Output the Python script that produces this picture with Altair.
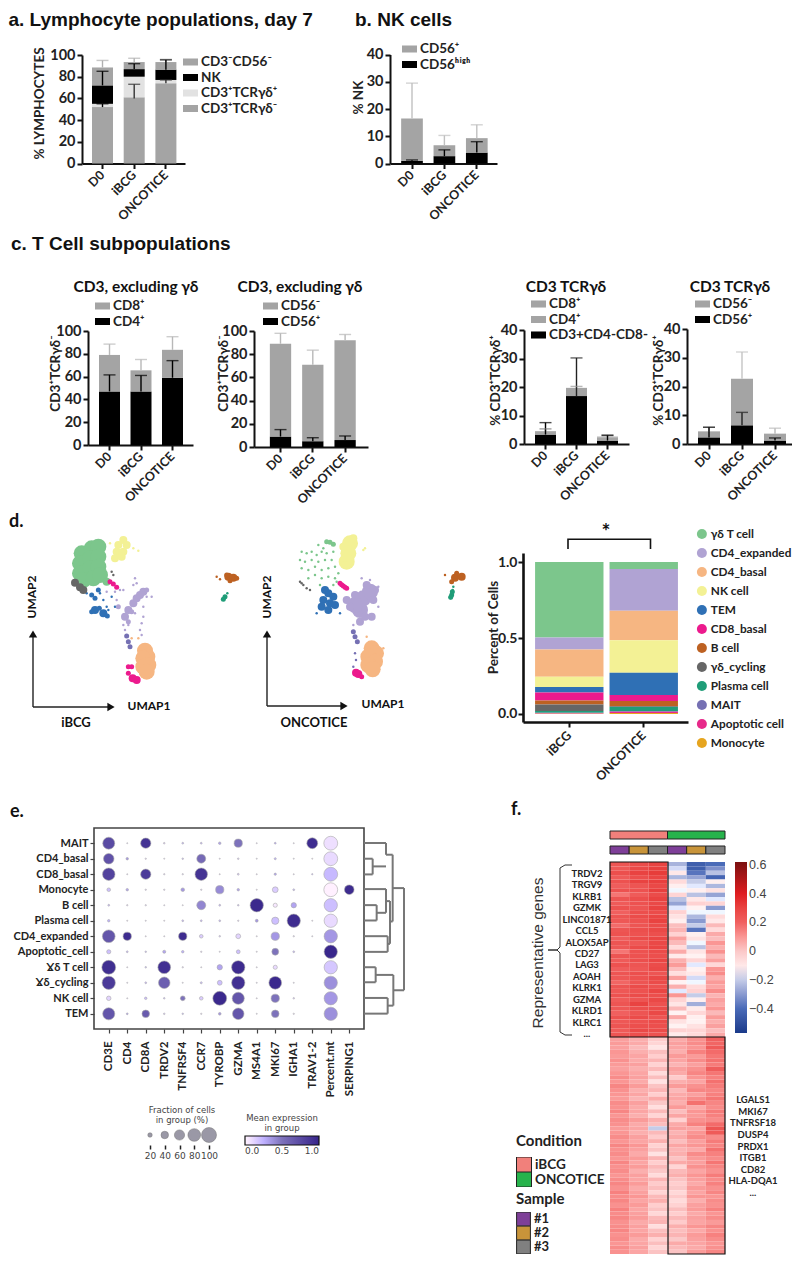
import altair as alt
import pandas as pd

W, H = 784, 1247
def P(v): return v - 8
FONT = "Lato"
one = pd.DataFrame({"k": [0]})
GREY, LIGHT, BLACK = "#a4a4a4", "#e2e2e2", "#000000"
CATS = ["D0", "iBCG", "ONCOTICE"]

# ---------- panel a
a_names = ["CD3⁻CD56⁻", "NK", "CD3⁺TCRγδ⁺", "CD3⁺TCRγδ⁻"]
a_colors = [GREY, BLACK, LIGHT, GREY]
a_bounds = {"CD3⁺TCRγδ⁻": [[0, 52], [0, 61], [0, 74]],
            "CD3⁺TCRγδ⁺": [[52, 55], [61, 80], [74, 77]],
            "NK": [[55, 72], [80, 87], [77, 86.5]],
            "CD3⁻CD56⁻": [[72, 88.5], [87, 93.5], [86.5, 93.5]]}
a_err = [("D0", 88.5, 95, "#b0b0b0"), ("D0", 72, 85, BLACK), ("D0", 52, 55, BLACK),
         ("iBCG", 93.5, 97, "#b0b0b0"), ("iBCG", 87, 92, BLACK), ("iBCG", 60, 73, "#333333"),
         ("ONCOTICE", 93.5, 96, "#b0b0b0"), ("ONCOTICE", 86.5, 95.5, BLACK), ("ONCOTICE", 74, 77, "#333333")]
# ---------- panel b
b_names = ["CD56⁺", "CD56ʰⁱᵍʰ"]
b_colors = [GREY, BLACK]
b_bounds = {"CD56ʰⁱᵍʰ": [[0, 1], [0, 2.7], [0, 4]], "CD56⁺": [[1, 16.5], [2.7, 6.7], [4, 9.3]]}
b_err = [("D0", 16.5, 29.5, "#c0c0c0"), ("D0", 1, 1.3, BLACK), ("iBCG", 6.7, 10.3, "#c0c0c0"),
         ("iBCG", 2.7, 5, BLACK), ("ONCOTICE", 9.3, 14.2, "#c0c0c0"), ("ONCOTICE", 4, 8, BLACK)]
# ---------- panel c
c1_names = ["CD8⁺", "CD4⁺"]
c1_bounds = {"CD4⁺": [[0, 47], [0, 47], [0, 59]], "CD8⁺": [[47, 79], [47, 65.5], [59, 83.5]]}
c1_err = [("D0", 79, 88.5, "#b8b8b8"), ("iBCG", 65.5, 75, "#b8b8b8"), ("ONCOTICE", 83.5, 95, "#b8b8b8"),
          ("D0", 47, 61.5, BLACK), ("iBCG", 47, 61, BLACK), ("ONCOTICE", 59, 74, BLACK)]
c2_names = ["CD56⁻", "CD56⁺"]
c2_bounds = {"CD56⁺": [[0, 9], [0, 5], [0, 6]], "CD56⁻": [[9, 89], [5, 71], [6, 92]]}
c2_err = [("D0", 89, 98, "#b8b8b8"), ("iBCG", 71, 83.5, "#b8b8b8"), ("ONCOTICE", 92, 97, "#b8b8b8"),
          ("D0", 9, 15, BLACK), ("iBCG", 5, 8, BLACK), ("ONCOTICE", 6, 9.5, BLACK)]
c3_names = ["CD8⁺", "CD4⁺", "CD3+CD4-CD8-"]
c3_bounds = {"CD3+CD4-CD8-": [[0, 3.3], [0, 16.8], [0, 1.2]], "CD4⁺": [[3.3, 4.2], [16.8, 19.3], [1.2, 2.2]],
             "CD8⁺": [[4.2, 4.5], [19.3, 19.7], [2.2, 2.6]]}
c3_err = [("D0", 4.5, 5.3, "#777777"), ("iBCG", 19.7, 20.2, "#999999"), ("ONCOTICE", 2.6, 3.2, "#777777"),
          ("D0", 3.3, 7.5, BLACK), ("iBCG", 16.8, 30.2, "#222222"), ("ONCOTICE", 1.2, 3, BLACK)]
c4_names = ["CD56⁻", "CD56⁺"]
c4_bounds = {"CD56⁺": [[0, 2.3], [0, 6.5], [0, 1.2]], "CD56⁻": [[2.3, 4.4], [6.5, 22.7], [1.2, 3.6]]}
c4_err = [("D0", 4.4, 6, "#b8b8b8"), ("iBCG", 22.7, 32, "#c4c4c4"), ("ONCOTICE", 3.6, 5.5, "#b8b8b8"),
          ("D0", 2.3, 5.8, BLACK), ("iBCG", 6.5, 11, "#222222"), ("ONCOTICE", 1.2, 2.1, BLACK)]
# ---------- panel d
d_cell_types = ["γδ T cell", "CD4_expanded", "CD4_basal", "NK cell", "TEM", "CD8_basal", "B cell",
                "γδ_cycling", "Plasma cell", "MAIT", "Apoptotic cell", "Monocyte"]
d_colors = ["#7cc68c", "#b0a3d3", "#f6b682", "#f3f195", "#2f70b5", "#ec1a8d", "#bd6122",
            "#666666", "#1f9d78", "#7570b3", "#e7298a", "#e6a51f"]
d_top_ibcg = [1.0, .503, .425, .245, .177, .142, .088, .063, .02, .008, .004, .002]
d_top_onco = [1.0, .955, .68, .485, .272, .125, .085, .05, .045, .02, .015, .007]
# UMAP points: (x, y, cell type, density tier)
u1 = {
 "big": [(245,130,0),(275,115,0),(295,110,0),(240,160,0),(270,145,0),(295,140,0),(240,190,0),(270,175,0),(295,170,0),
         (250,210,0),(280,205,0),(300,195,0),(435,422,2),(442,440,2),(430,445,2),(445,465,2),(430,470,2),(440,485,2)],
 "mid": [(320,215,0),(370,90,3),(355,105,3),(380,105,3),(350,125,3),(370,125,3),(345,145,3),(365,140,3),
         (225,218,7),(240,232,7),(250,240,7),(430,245,1),(410,265,1),(400,280,1),(385,300,1),(375,320,1),(420,255,1),
         (398,505,5),(410,510,5),(685,200,6),(700,203,6),(285,300,4),(310,310,4)],
 "small": [(380,378,9),(385,395,9),(390,410,9),(385,470,5),(395,470,5),(385,490,5),(680,195,6),(710,205,6),(690,212,6),(675,260,8),
           (670,268,8),(275,255,4),(285,265,4),(295,240,4),(330,215,5),(350,232,5),(340,222,5),(275,305,4),(298,295,4),(322,318,4),
           (395,305,1),(385,335,1),(440,240,1),(355,290,1)],
 "dot": [(400,115,3),(415,122,3),(330,100,3),(325,300,4),(320,290,4),(300,250,4),(310,270,4),(405,205,1),(410,220,1),(440,260,1),
         (455,260,1),(430,290,1),(430,320,1),(425,340,1),(350,270,1),(345,245,1),(370,240,1),(385,345,1),(405,310,1),(420,360,1),
         (425,375,1),(360,240,1),(335,185,7),(340,195,7),(650,200,6),(660,208,6),(682,250,8),(260,250,4),(335,260,4),
         (320,245,1),(395,385,2),(415,385,2),(345,290,4),(400,225,1),(375,360,1),(370,345,1)],
}
u2 = {
 "big": [(1050,100,3),(1045,130,3),(1040,155,3),(1080,300,1),(1090,265,1),(1110,245,1),(1065,285,1),(1115,415,2),(1128,430,2),(1105,440,2),
         (1125,455,2),(1105,465,2),(1118,478,2)],
 "mid": [(1060,85,3),(1030,110,3),(1035,165,3),(985,250,4),(970,270,4),(990,280,4),(1000,260,4),(965,290,4),(985,300,4),(1005,285,4),
         (975,240,4),(1120,270,1),(1115,320,1),(1050,290,1),(1080,335,1),(1065,255,1),(1100,225,1),(1040,270,1),(1075,492,5),(1068,488,5),
         (1365,203,6),(1385,200,6),(1125,240,1),(1095,320,1)],
 "small": [(990,97,0),(980,95,0),(1000,103,0),(1030,228,5),(1040,235,5),(1020,220,5),(1025,224,5),(1035,232,5),(1060,365,9),(1065,380,9),
           (1072,395,9),(1085,500,5),(1355,215,6),(1370,190,6),(1355,255,8),(1357,245,8),(1352,262,8)],
 "dot": [(905,125,0),(920,130,0),(935,125,0),(950,135,0),(965,125,0),(980,130,0),(900,150,0),(915,155,0),(935,150,0),(955,155,0),
         (975,150,0),(995,150,0),(905,175,0),(925,180,0),(945,170,0),(965,180,0),(985,175,0),(1005,170,0),(925,205,0),(945,195,0),
         (965,205,0),(985,200,0),(1005,205,0),(1000,125,0),(955,105,0),(970,115,0),(1015,190,0),(1000,225,0),(960,225,0),(1010,215,0),
         (900,215,7),(910,225,7),(920,235,7),(930,240,7),(905,220,7),(1335,195,6),(1358,240,8),(1360,230,8),(1352,265,8),(1065,430,9),
         (1068,450,9),(1090,120,3),(1095,115,3),(1135,230,1),(1135,290,1),(1085,205,1),(1110,210,1),(1060,345,1),(1100,380,2),(1150,415,2),
         (1060,470,9),(950,310,4),(1020,310,4)],
}
# ---------- panel e
e_rows = ["MAIT", "CD4_basal", "CD8_basal", "Monocyte", "B cell", "Plasma cell", "CD4_expanded", "Apoptotic_cell",
          "Ɣδ T cell", "Ɣδ_cycling", "NK cell", "TEM"]
e_cols = ["CD3E", "CD4", "CD8A", "TRDV2", "TNFRSF4", "CCR7", "TYROBP", "GZMA", "MS4A1", "MKI67", "IGHA1", "TRAV1-2", "Percent.mt", "SERPING1"]
e_frac = [
 [74,3,60,5,6,6,9,45,3,6,3,65,90,0],
 [62,9,4,3,5,50,3,5,3,7,3,3,90,0],
 [78,3,60,4,4,78,3,6,3,8,3,4,90,0],
 [15,9,4,4,15,4,45,9,3,28,6,0,90,55],
 [6,4,4,3,3,50,6,5,85,18,25,0,85,0],
 [9,3,3,3,6,6,6,4,11,38,85,3,85,0],
 [80,45,3,3,45,15,5,22,3,45,4,3,85,0],
 [18,6,5,12,9,4,3,16,3,35,6,0,85,0],
 [90,3,5,80,4,3,25,85,3,18,0,0,85,0],
 [85,3,6,70,3,7,22,85,3,80,3,0,85,0],
 [20,3,9,5,22,15,90,75,3,45,5,0,85,0],
 [75,6,40,5,5,4,10,70,3,40,4,0,85,0]]
e_expr = [
 [.75,.1,.9,.15,.2,.2,.3,.5,.1,.25,.1,.95,.08,0],
 [.7,.35,.1,.1,.2,.55,.1,.15,.1,.25,.1,.05,.1,0],
 [.8,.1,.85,.1,.1,.9,.1,.15,.1,.3,.1,.2,.22,0],
 [.2,.3,.1,.1,.35,.1,.4,.3,.1,.15,.2,0,.02,.95],
 [.2,.1,.1,.1,.1,.42,.2,.2,.97,.05,.3,0,.2,0],
 [.25,.1,.1,.1,.2,.2,.2,.1,.35,.2,.95,.1,.1,0],
 [.68,.95,.1,.1,.95,.15,.15,.12,.1,.35,.1,.1,.35,0],
 [.2,.2,.2,.3,.25,.1,.1,.2,.1,.5,.2,0,.98,0],
 [.93,.1,.2,.92,.1,.1,.3,.95,.1,.1,0,0,.17,0],
 [.85,.1,.2,.62,.1,.2,.2,.92,.1,.97,.1,0,.38,0],
 [.12,.1,.2,.2,.5,.15,.97,.68,.1,.5,.15,0,.35,0],
 [.68,.3,.65,.15,.2,.1,.35,.68,.1,.5,.1,0,.38,0]]
e_legend_frac = [20, 40, 60, 80, 100]
# dendrogram segments: x1, y1, x2, y2 in cluster distance / leaf position units
e_dendro = [(1092,177,1118,177),(1092,224,1118,224),(1118,177,1118,224),(1092,130,1158,130),(1118,200,1158,200),(1158,130,1158,165),
            (1092,316,1130,316),(1092,362,1130,362),(1130,316,1130,362),(1092,268,1158,268),(1130,339,1158,339),(1158,268,1158,339),
            (1092,409,1163,409),(1092,456,1163,456),(1163,409,1163,456),(1158,304,1170,304),(1163,432,1170,432),(1170,304,1170,432),
            (1158,165,1178,165),(1170,365,1178,365),(1178,165,1178,365),(1092,502,1127,502),(1092,547,1127,547),(1127,502,1127,547),
            (1092,594,1163,594),(1092,641,1163,641),(1163,594,1163,641),(1127,525,1180,525),(1163,617,1180,617),(1180,525,1180,617),
            (1178,265,1212,265),(1180,571,1212,571),(1212,265,1212,571)]
# ---------- panel f
f_cols = ["i1", "i2", "i3", "o1", "o2", "o3"]
f_top = [
 [24,27,30,-25,-44,-40],[23,28,31,-18,-44,-32],[26,30,32,-10,-38,-22],[22,26,29,-24,-28,-42],[25,30,31,-6,-20,-12],
 [21,24,28,-12,-16,-24],[25,25,31,-14,-12,-8],[16,22,27,-4,-22,-28],[24,26,30,-22,-10,-16],[22,25,28,-28,-3,-4],
 [25,24,30,-16,-13,-30],[20,26,27,-3,-14,-14],[24,27,29,-8,-24,-6],[23,25,30,-12,-30,-10],[18,24,27,2,-20,3],
 [24,26,28,4,-38,-6],[25,25,26,-3,-12,6],[21,27,29,8,-8,2],[24,23,28,3,-14,10],[23,27,29,-6,-22,5],
 [16,25,27,6,-9,11],[24,25,26,-11,-13,3],[22,26,29,5,-4,8],[25,24,27,9,-16,-5],[21,23,28,2,-13,10],
 [24,26,24,-7,-10,12],[23,25,28,8,-18,5],[19,24,27,-13,-14,9],[24,27,25,5,-6,7],[23,25,29,-16,-3,12],
 [25,27,26,10,-20,4],[22,24,28,-4,-12,8],[24,30,25,-9,-26,6],[23,26,27,3,-11,10],[20,24,28,-13,-5,3],
 [25,27,24,6,-12,9],[23,25,27,-8,-13,5],[24,26,26,-13,-8,8],[22,28,27,-3,-4,2],[24,26,25,-11,-6,6]]
f_bottom = [
 [8,5,-1,6,11,20],[9,6,-4,8,12,19],[8,3,-9,7,10,22],[10,5,2,5,14,18],[9,7,-2,9,9,16],
 [11,6,4,7,12,17],[9,8,-3,4,8,15],[8,5,3,8,11,21],[10,7,-6,6,13,16],[12,8,2,-1,10,14],
 [10,6,-8,5,7,17],[13,9,1,9,11,15],[11,5,4,3,13,13],[10,7,-2,6,8,14],[9,4,6,7,12,16],
 [12,8,0,5,17,13],[11,6,-7,9,6,12],[13,7,3,2,10,15],[10,5,-4,7,9,14],[12,9,5,-3,11,12],
 [11,6,2,6,14,18],[9,7,-20,8,7,24],[10,5,3,4,10,22],[12,8,-1,6,12,12],[10,7,5,2,8,15],
 [13,10,-3,7,10,13],[11,8,1,4,6,17],[12,6,-8,5,12,14],[10,9,4,1,9,12],[13,7,-2,6,8,16],
 [11,9,3,-4,11,13],[12,5,0,3,7,11],[10,8,-6,5,10,15],[12,7,4,1,8,12],[13,9,-1,-2,6,14],
 [11,6,2,0,9,11],[14,8,-4,-5,7,13],[12,10,3,-1,10,10],[13,7,5,-6,5,12],[11,9,-2,-3,8,11],
 [14,7,1,2,9,14],[12,8,-5,-2,6,10],[13,9,3,3,8,12],[11,6,4,-1,7,9],[12,8,-7,5,10,13],
 [13,7,2,2,6,11],[11,9,5,4,9,14],[12,6,-3,0,8,12],[10,7,2,6,7,10],[12,8,-4,3,6,11],[11,7,1,1,9,13]]
f_left_genes = ["TRDV2","TRGV9","KLRB1","GZMK","LINC01871","CCL5","ALOX5AP","CD27","LAG3","AOAH","KLRK1","GZMA","KLRD1","KLRC1","..."]
f_right_genes = ["LGALS1","MKI67","TNFRSF18","DUSP4","PRDX1","ITGB1","CD82","HLA-DQA1","..."]
f_conditions = ["iBCG", "ONCOTICE"]
f_cond_colors = ["#f1807b", "#27b34c"]
f_samples = ["#1", "#2", "#3"]
f_sample_colors = ["#7e3f98", "#c8943a", "#808080"]
f_stops = [-0.57, -0.4, -0.2, -0.13, 0, 0.2, 0.4, 0.62]
f_stop_colors = ["#1a3a8a", "#4a6bb8", "#c5cce8", "#ffffff", "#fbc8c8", "#f0605f", "#df1d20", "#7a1010"]
brace = [(572,865),(565,865),(560,868),(560,947),(557,950),(548,950),(557,950),(560,953),(560,1032),(565,1035),(572,1035)]

AX = dict(grid=False, domainColor="#111", tickColor="#111", domainWidth=2, tickWidth=2, tickSize=5,
          labelFont=FONT, labelFontWeight="bold", labelColor="#222", titleFont=FONT, titleFontWeight="bold", titleColor="#222")

def txt(s, x, y, size=14, weight="bold", font=FONT, color="#111", angle=0, align="center"):
    return alt.Chart(one).mark_text(text=s, font=font, fontSize=size, fontWeight=weight, color=color,
                                    angle=angle, align=align, baseline="middle").encode(
        x=alt.value(P(x)), y=alt.value(P(y)))

def bar_panel(names, colors, bounds, errs, ymax, ticks, y0, y1, ax, ax2, c0, step, bw, ytitle, tx, ty, lx, ly, capw=12, lpad=1.5):
    n = 3
    left = c0 - bw / 2 - ax
    right = ax2 - (c0 + (n - 1) * step + bw / 2)
    pi = 1 - bw / step
    po = (left + right) / (2 * step)
    xs = alt.Scale(domain=CATS, range=[P(ax), P(ax2)], paddingInner=pi, paddingOuter=po, align=left / (left + right))
    ys = alt.Scale(domain=[0, ymax], range=[P(y0), P(y1)], nice=False)
    rows = [{"cat": c, "name": k, "lo": v[i][0], "hi": v[i][1]} for k, v in bounds.items() for i, c in enumerate(CATS)]
    err = pd.DataFrame(errs, columns=["cat", "lo", "hi", "col"])
    xaxis = alt.Axis(orient="bottom", offset=P(y0) - H, title=None, labelAngle=-45, labelAlign="right", labelBaseline="middle",
                     labelFontSize=12.5, labelPadding=4, labelOverlap=False, **AX)
    yaxis = alt.Axis(orient="left", offset=-P(ax), values=ticks, title=ytitle, titleX=tx - ax, titleY=P(ty), titleAngle=270,
                     titleBaseline="middle", titleFontSize=13.5, labelFontSize=14.5, labelPadding=2, **AX)
    x = alt.X("cat:N", scale=xs, axis=xaxis)
    bars = alt.Chart(pd.DataFrame(rows)).mark_bar().encode(
        x=x, y=alt.Y("lo:Q", scale=ys, axis=yaxis), y2="hi:Q",
        color=alt.Color("name:N", scale=alt.Scale(domain=names, range=colors),
                        legend=alt.Legend(orient="none", legendX=P(lx), legendY=P(ly), title=None, symbolType="M-1,-0.47H1V0.47H-1Z",
                                          symbolSize=225, symbolOpacity=1, labelFont=FONT, labelFontWeight="bold", labelFontSize=13.5, labelColor="#222",
                                          rowPadding=lpad, labelOffset=3, symbolStrokeWidth=0, clipHeight=14)))
    rule = alt.Chart(err).mark_rule(strokeWidth=1.4).encode(x=alt.X("cat:N", scale=xs, axis=None),
            y=alt.Y("lo:Q", scale=ys, axis=None), y2="hi:Q", color=alt.Color("col:N", scale=None))
    cap = alt.Chart(err).mark_tick(size=capw, thickness=1.4).encode(x=alt.X("cat:N", scale=xs, axis=None),
            y=alt.Y("hi:Q", scale=ys, axis=None), color=alt.Color("col:N", scale=None))
    return [bars, rule, cap]

layers = []
# titles
layers += [txt("a. Lymphocyte populations, day 7", 8.5, 19.5, 19, font="Liberation Sans", align="left"),
           txt("b. NK cells", 355, 19.5, 19, font="Liberation Sans", align="left"),
           txt("c. T Cell subpopulations", 11, 244, 19, font="Liberation Sans", align="left"),
           txt("d.", 9, 522, 18, align="left"), txt("e.", 10, 812, 18, align="left"), txt("f.", 511, 810, 18, align="left")]

layers += bar_panel(a_names, a_colors, a_bounds, a_err, 100, [0,20,40,60,80,100], 163.5, 55, 82, 185, 102.5, 31.7, 21,
                    "% LYMPHOCYTES", 39, 103, 183, 55)
layers += bar_panel(b_names, b_colors, b_bounds, b_err, 40, [0,10,20,30,40], 163.5, 54.5, 390, 497, 412, 32.4, 21.7,
                    "% NK", 358, 97, 402, 42)
layers += bar_panel(c1_names, [GREY, BLACK], c1_bounds, c1_err, 100, [0,20,40,60,80,100], 445, 331, 88, 193, 109.5, 31.5, 21,
                    "CD3⁺TCRγδ⁻", 55, 373, 95, 299)
layers += bar_panel(c2_names, [GREY, BLACK], c2_bounds, c2_err, 100, [0,20,40,60,80,100], 447, 331, 254, 368, 280.5, 32.3, 21.3,
                    "CD3⁺TCRγδ⁻", 223, 373, 263, 299)
layers += bar_panel(c3_names, [GREY, GREY, BLACK], c3_bounds, c3_err, 40, [0,10,20,30,40], 444, 330, 524, 629, 545.5, 31, 21,
                    "% CD3⁺TCRγδ⁺", 495, 380, 531, 297)
layers += bar_panel(c4_names, [GREY, BLACK], c4_bounds, c4_err, 40, [0,10,20,30,40], 444, 329, 687, 798, 709, 33, 22,
                    "% CD3⁺TCRγδ⁺", 658, 380, 695, 297)
layers += [txt("CD3, excluding γδ", 136, 287, 15.5), txt("CD3, excluding γδ", 300, 287, 15.5),
           txt("CD3 TCRγδ", 566, 287, 15.5), txt("CD3 TCRγδ", 730, 287, 15.5)]

# UMAPs
def umap(pts, x0, x1):
    rows = [{"x": p[0], "y": p[1], "t": d_cell_types[p[2]], "tier": tier} for tier in ["big", "mid", "small", "dot"] for p in pts[tier]]
    return alt.Chart(pd.DataFrame(rows)).mark_circle(opacity=1).encode(
        x=alt.X("x:Q", scale=alt.Scale(domain=[x0, x1], range=[P(x0 / 3), P(x1 / 3)], nice=False, zero=False), axis=None),
        y=alt.Y("y:Q", scale=alt.Scale(domain=[0, 780], range=[P(510), P(770)], nice=False, zero=False), axis=None),
        color=alt.Color("t:N", scale=alt.Scale(domain=d_cell_types, range=d_colors), legend=None),
        size=alt.Size("tier:N", scale=alt.Scale(type="ordinal", domain=["big", "mid", "small", "dot"], range=[256, 64, 25, 6]), legend=None),
        order=alt.Order("tier:N"))
layers += [umap(u1, 0, 720), umap(u2, 720, 1440)]
def arrows(x, ytop, y, xr):
    return [alt.Chart(one).mark_rule(strokeWidth=1.4, color="#222").encode(x=alt.value(P(x)), y=alt.value(P(ytop)), y2=alt.value(P(y))),
            alt.Chart(one).mark_rule(strokeWidth=1.4, color="#222").encode(x=alt.value(P(x)), x2=alt.value(P(xr)), y=alt.value(P(y))),
            alt.Chart(one).mark_point(shape="triangle-up", filled=True, size=70, color="#111", opacity=1).encode(x=alt.value(P(x)), y=alt.value(P(ytop))),
            alt.Chart(one).mark_point(shape="triangle-right", filled=True, size=70, color="#111", opacity=1).encode(x=alt.value(P(xr)), y=alt.value(P(y)))]
layers += arrows(33, 634, 707, 111) + arrows(267, 634, 706, 344)
layers += [txt("UMAP1", 149, 706, 12), txt("UMAP2", 32, 597, 12, angle=270), txt("iBCG", 76, 723, 13),
           txt("UMAP1", 383, 704, 12), txt("UMAP2", 267, 597, 12, angle=270), txt("ONCOTICE", 314, 723, 13)]

# d stacked bars
d_rows = []
for cat, tops in (("iBCG", d_top_ibcg), ("ONCOTICE", d_top_onco)):
    for i, name in enumerate(d_cell_types):
        d_rows.append({"cat": cat, "name": name, "hi": tops[i], "lo": tops[i + 1] if i < 11 else 0})
d_x = alt.Scale(domain=["iBCG", "ONCOTICE"], range=[P(523), P(688)], paddingInner=6 / 74, paddingOuter=(12 + 10) / (2 * 74), align=12 / 22)
d_y = alt.Scale(domain=[-0.053, 1.06], range=[P(722), P(553)], nice=False, zero=False)
d_axis = dict(AX); d_axis.update(domainWidth=2.6)
d_bars = alt.Chart(pd.DataFrame(d_rows)).mark_bar().encode(
    x=alt.X("cat:N", scale=d_x, axis=alt.Axis(orient="bottom", offset=P(722) - H, title=None, labelAngle=-45, labelAlign="right",
                                              labelBaseline="middle", labelFontSize=12.5, labelPadding=6, **d_axis)),
    y=alt.Y("lo:Q", scale=d_y, axis=alt.Axis(orient="left", offset=-P(523), values=[0, 0.5, 1], format=".1f", title="Percent of Cells",
                                             titleX=493 - 523, titleY=P(627), titleAngle=270, titleBaseline="middle", titleFontSize=13.5,
                                             labelFontSize=14, labelPadding=1, **d_axis)),
    y2="hi:Q",
    color=alt.Color("name:N", scale=alt.Scale(domain=d_cell_types, range=d_colors),
                    legend=alt.Legend(orient="none", legendX=P(696), legendY=P(527), title=None, symbolType="circle", symbolSize=100, symbolOpacity=1,
                                      labelFont=FONT, labelFontWeight="bold", labelFontSize=11.8, labelColor="#222", rowPadding=5,
                                      labelOffset=3, symbolStrokeWidth=0, clipHeight=14)))
d_bracket = alt.Chart(pd.DataFrame({"cat": ["iBCG", "iBCG", "ONCOTICE", "ONCOTICE"], "y": [1.086, 1.151, 1.151, 1.086], "o": [0, 1, 2, 3]})).mark_line(
    color="#111", strokeWidth=1.6).encode(x=alt.X("cat:N", scale=d_x, axis=None), y=alt.Y("y:Q", scale=d_y, axis=None), order="o:Q")
layers += [d_bars, d_bracket, txt("*", 606, 533, 21)]

# e dot plot
rows = []
for i, r in enumerate(e_rows):
    for j, c in enumerate(e_cols):
        if e_frac[i][j] > 0:
            rows.append({"r": r, "c": c, "f": e_frac[i][j], "e": e_expr[i][j]})
size_scale = alt.Scale(type="pow", exponent=1.5, domain=[0, 100], range=[0, 225])
e_ax = dict(AX); e_ax.update(domainOpacity=0, tickWidth=1.2, tickColor="#444", tickSize=4)
e_dots = alt.Chart(pd.DataFrame(rows)).mark_circle(opacity=1, stroke="#aaaaaa", strokeWidth=0.6).encode(
    x=alt.X("c:N", sort=e_cols, scale=alt.Scale(type="point", domain=e_cols, range=[P(94), P(364)], padding=0.797),
            axis=alt.Axis(orient="bottom", offset=P(1029) - H, title=None, labelAngle=270, labelAlign="right", labelBaseline="middle",
                          labelFontSize=11.5, labelPadding=8, labelOverlap=False, **e_ax)),
    y=alt.Y("r:N", sort=e_rows, scale=alt.Scale(type="point", domain=e_rows, range=[P(828), P(1029)], padding=0.98),
            axis=alt.Axis(orient="left", offset=-P(94), title=None, labelFontSize=11, labelPadding=2, labelOverlap=False, **e_ax)),
    size=alt.Size("f:Q", scale=size_scale, legend=None),
    color=alt.Color("e:Q", scale=alt.Scale(domain=[0, 0.5, 1], range=["#ffffff", "#7d72bb", "#36248a"]),
                    legend=alt.Legend(orient="none", legendX=P(245), legendY=P(1136), direction="horizontal", title=None, gradientLength=74,
                                      gradientThickness=9, values=[0, 0.5, 1], format=".1f", gradientStrokeColor="#111", gradientStrokeWidth=1.2,
                                      labelFont="DejaVu Sans", labelFontSize=9, labelColor="#444", labelOverlap=False)))
layers.append(e_dots)
layers.append(alt.Chart(one).mark_rect(fill="transparent", stroke="#444", strokeWidth=1.6).encode(
    x=alt.value(P(94)), x2=alt.value(P(364)), y=alt.value(P(828)), y2=alt.value(P(1029))))
layers.append(alt.Chart(pd.DataFrame(e_dendro, columns=["x", "y", "x2", "y2"])).mark_rule(color="#777", strokeWidth=2).encode(
    x=alt.X("x:Q", scale=alt.Scale(domain=[1092, 1212], range=[P(364), P(404)], nice=False, zero=False), axis=None), x2="x2:Q",
    y=alt.Y("y:Q", scale=alt.Scale(domain=[85, 687], range=[P(828), P(1029)], nice=False, zero=False), axis=None), y2="y2:Q"))
leg_ax = alt.Axis(orient="bottom", offset=P(1145) - H, title=None, domain=False, tickColor="#222", tickWidth=1.5, tickSize=4, grid=False,
                  labelFont="DejaVu Sans", labelFontSize=9, labelColor="#444", labelAngle=0, labelPadding=2)
layers.append(alt.Chart(pd.DataFrame({"f": e_legend_frac})).mark_circle(opacity=1, color="#9a98a6", stroke="#777", strokeWidth=0.5).encode(
    x=alt.X("f:O", scale=alt.Scale(type="point", domain=e_legend_frac, range=[P(150), P(209)], padding=0), axis=leg_ax),
    y=alt.value(P(1135)), size=alt.Size("f:Q", scale=size_scale, legend=None)))
for s, x, y in [("Fraction of cells", 182, 1110), ("in group (%)", 182, 1120), ("Mean expression", 282, 1118), ("in group", 282, 1128)]:
    layers.append(txt(s, x, y, 8.5, weight="normal", font="DejaVu Sans", color="#444"))

# f heatmap
f_x = alt.Scale(domain=f_cols, range=[P(610), P(725)], paddingInner=0, paddingOuter=0)
f_colors = alt.Scale(domain=f_stops, range=f_stop_colors)
def heat(block, prefix, y0, y1, legend):
    ids = [f"{prefix}{i:03d}" for i in range(len(block))]
    rows = [{"r": rid, "c": c, "v": v / 100} for rid, vals in zip(ids, block) for c, v in zip(f_cols, vals)]
    return alt.Chart(pd.DataFrame(rows)).mark_rect().encode(
        x=alt.X("c:N", sort=f_cols, scale=f_x, axis=None),
        y=alt.Y("r:N", sort=ids, scale=alt.Scale(domain=ids, range=[P(y0), P(y1)], paddingInner=0, paddingOuter=0), axis=None),
        color=alt.Color("v:Q", scale=f_colors, legend=legend))
f_legend = alt.Legend(orient="none", legendX=P(735), legendY=P(862), title=None, gradientLength=171, gradientThickness=12,
                      values=[-0.4, -0.2, 0, 0.2, 0.4, 0.6], format=".1~f", labelFont="Liberation Sans", labelFontSize=12.5,
                      labelColor="#444", labelOverlap=False, gradientStrokeWidth=0)
layers += [heat(f_top, "t", 862, 1037, f_legend), heat(f_bottom, "b", 1037, 1254, None)]
for xa, xb, ya, yb in [(610, 668, 862, 1037), (668, 725, 1037, 1254)]:
    layers.append(alt.Chart(one).mark_rect(fill="transparent", stroke="#111", strokeWidth=1.2).encode(
        x=alt.value(P(xa)), x2=alt.value(P(xb)), y=alt.value(P(ya)), y2=alt.value(P(yb))))
# annotation bars with condition / sample legends
layers.append(alt.Chart(pd.DataFrame({"c": f_conditions})).mark_rect(stroke="#222", strokeWidth=1).encode(
    x=alt.X("c:N", scale=alt.Scale(domain=f_conditions, range=[P(610), P(725)], paddingInner=0, paddingOuter=0), axis=None),
    y=alt.value(P(831)), y2=alt.value(P(839)),
    color=alt.Color("c:N", scale=alt.Scale(domain=f_conditions, range=f_cond_colors),
                    legend=alt.Legend(orient="none", legendX=P(516), legendY=P(1134), title="Condition", titleFont=FONT, titleFontSize=15,
                                      titleFontWeight="bold", titleColor="#222", titlePadding=8, symbolType="square", symbolSize=225, symbolStrokeColor="#222",
                                      symbolStrokeWidth=1, labelFont=FONT, labelFontWeight="bold", labelFontSize=13.5, labelColor="#222", rowPadding=0,
                                      labelOffset=3, clipHeight=15))))
sample_df = pd.DataFrame({"c": f_cols, "s": f_samples * 2})
layers.append(alt.Chart(sample_df).mark_rect(stroke="#222", strokeWidth=1).encode(
    x=alt.X("c:N", sort=f_cols, scale=f_x, axis=None), y=alt.value(P(846)), y2=alt.value(P(854)),
    color=alt.Color("s:N", scale=alt.Scale(domain=f_samples, range=f_sample_colors),
                    legend=alt.Legend(orient="none", legendX=P(516), legendY=P(1192), title="Sample", titleFont=FONT, titleFontSize=15,
                                      titleFontWeight="bold", titleColor="#222", titlePadding=5, symbolType="square", symbolSize=190, symbolStrokeColor="#222",
                                      symbolStrokeWidth=1, labelFont=FONT, labelFontWeight="bold", labelFontSize=13, labelColor="#222", rowPadding=0,
                                      labelOffset=3, clipHeight=14))))
def gene_text(genes, x, y0, y1):
    return alt.Chart(pd.DataFrame({"g": genes, "i": [f"{k:02d}" for k in range(len(genes))]})).mark_text(
        font=FONT, fontWeight="bold", fontSize=9.5, color="#222", baseline="middle").encode(
        x=alt.value(P(x)), text="g:N",
        y=alt.Y("i:N", scale=alt.Scale(type="point", domain=[f"{k:02d}" for k in range(len(genes))], range=[P(y0), P(y1)], padding=0), axis=None))
layers += [gene_text(f_left_genes, 587, 874, 1034), gene_text(f_right_genes, 753, 1100, 1193)]
layers.append(txt("Representative genes", 538, 953, 15.5, weight="normal", font="Liberation Sans", color="#333", angle=270))
layers.append(alt.Chart(pd.DataFrame([{"x": p[0], "y": p[1], "o": i} for i, p in enumerate(brace)])).mark_line(color="#333", strokeWidth=1).encode(
    x=alt.X("x:Q", scale=alt.Scale(domain=[0, 800], range=[-8, 792], nice=False, zero=False), axis=None),
    y=alt.Y("y:Q", scale=alt.Scale(domain=[0, 1263], range=[-8, 1255], nice=False, zero=False), axis=None), order="o:Q"))

chart = alt.layer(*layers).resolve_scale(x="independent", y="independent", color="independent", size="independent").resolve_legend(
    color="independent", size="independent").properties(
    width=W, height=H, padding=0, background="white", autosize=alt.AutoSizeParams(type="none")).configure_view(stroke=None)
chart.save("out.html", embed_options={"renderer": "svg", "actions": False})
